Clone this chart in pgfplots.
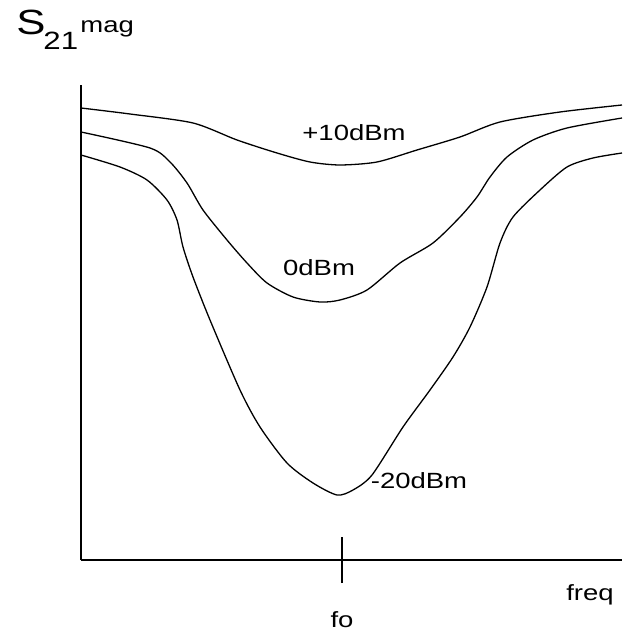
\documentclass[border=0pt]{standalone}
\usepackage{fontspec}
\setmainfont{Liberation Sans}[FakeStretch=1.25]
\usepackage{pgfplots}
\pgfplotsset{compat=1.18}

\begin{document}
\begin{tikzpicture}
  \begin{axis}
    [
      x=0.5pt, y=0.5pt,
      xmin=81, xmax=622,
      ymin=76, ymax=551,
      axis lines=left,
      axis line style={-, line width=0.8pt},
      ytick=\empty,
      xtick={342},
      xticklabels={fo},
      tick align=center,
      major tick length=23pt,
      tick style={black, line width=0.8pt},
      xticklabel style={anchor=base, yshift=-22pt, font=\fontsize{11}{13}\selectfont},
      clip=false,
      curve/.style={black, line width=0.65pt, smooth, tension=0.45, mark=none},
    ]

    % +10 dBm
    \addplot[curve] coordinates {
        (81,528) (130,522) (193,513) (237,496) (277,483) (310,474) (340,471)
        (377,474) (417,486) (460,499) (500,514) (560,524) (622,531)
      };

    % 0 dBm
    \addplot[curve] coordinates {
        (81,504) (150,488) (170,474) (187,453) (203,426) (227,396) (247,373)
        (267,353) (293,339) (320,334) (340,336) (367,346) (400,373) (433,393)
        (460,419) (477,439) (490,459) (507,479) (533,496) (567,508) (622,518)
      };

    % -20 dBm
    \addplot[curve] coordinates {
        (81,481) (120,469) (147,456) (167,436) (177,416) (183,389) (193,359)
        (210,316) (240,246) (260,209) (287,173) (313,153) (337,141)
        (353,146) (372,161) (403,209) (430,246) (453,279) (470,309)
        (487,349) (500,393) (513,419) (540,446) (567,469) (593,478) (622,483)
      };

    \path (axis cs:0,0) rectangle (axis cs:622,636);

    \begin{scope}[every node/.style={inner sep=0pt, font=\fontsize{11}{13}\selectfont}]
      \node[anchor=base] at (axis cs:354,495) {+10dBm};
      \node[anchor=base] at (axis cs:319,360) {0dBm};
      \node[anchor=base] at (axis cs:419,147) {-20dBm};
      \node[anchor=base] at (axis cs:590,36) {freq};
      \node[anchor=base west, font=\fontsize{17.5}{20}\selectfont] at (axis cs:16,601) {S};
      \node[anchor=base west, font=\fontsize{12.5}{14}\selectfont] at (axis cs:43,586) {21};
      \node[anchor=base west] at (axis cs:80,603) {mag};
    \end{scope}
  \end{axis}
\end{tikzpicture}
\end{document}
